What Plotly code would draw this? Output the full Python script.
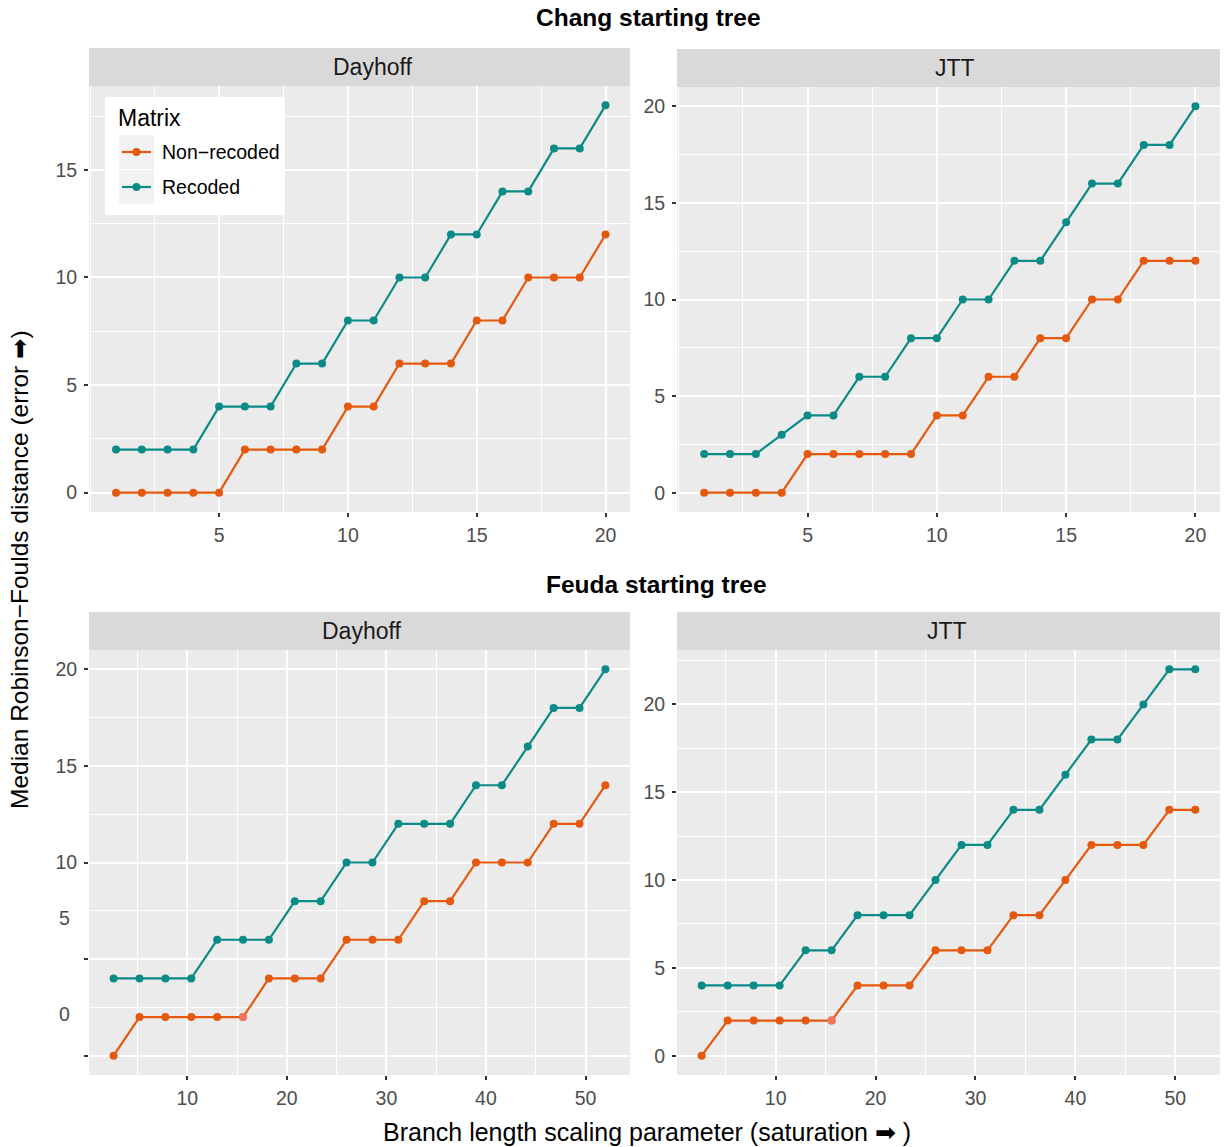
import plotly.graph_objects as go

W, H = 1225, 1147

# ---- data -------------------------------------------------------------
x_chang = [1, 2, 3, 4, 5, 6, 7, 8, 9, 10, 11, 12, 13, 14, 15, 16, 17, 18, 19, 20]
x_feuda = [2.6, 5.2, 7.8, 10.4, 13.0, 15.6, 18.2, 20.8, 23.4, 26.0,
           28.6, 31.2, 33.8, 36.4, 39.0, 41.6, 44.2, 46.8, 49.4, 52.0]

chang_dayhoff_non = [0, 0, 0, 0, 0, 2, 2, 2, 2, 4, 4, 6, 6, 6, 8, 8, 10, 10, 10, 12]
chang_dayhoff_rec = [2, 2, 2, 2, 4, 4, 4, 6, 6, 8, 8, 10, 10, 12, 12, 14, 14, 16, 16, 18]
chang_jtt_non = [0, 0, 0, 0, 2, 2, 2, 2, 2, 4, 4, 6, 6, 8, 8, 10, 10, 12, 12, 12]
chang_jtt_rec = [2, 2, 2, 3, 4, 4, 6, 6, 8, 8, 10, 10, 12, 12, 14, 16, 16, 18, 18, 20]
feuda_dayhoff_non = [0, 2, 2, 2, 2, 2, 4, 4, 4, 6, 6, 6, 8, 8, 10, 10, 10, 12, 12, 14]
feuda_dayhoff_rec = [4, 4, 4, 4, 6, 6, 6, 8, 8, 10, 10, 12, 12, 12, 14, 14, 16, 18, 18, 20]
feuda_jtt_non = [0, 2, 2, 2, 2, 2, 4, 4, 4, 6, 6, 6, 8, 8, 10, 12, 12, 12, 14, 14]
feuda_jtt_rec = [4, 4, 4, 4, 6, 6, 8, 8, 8, 10, 12, 12, 14, 14, 16, 18, 18, 20, 22, 22]

# highlighted single point in the Feuda panels
feuda_mark_x = [15.6]
feuda_mark_y = [2]

series_names = ["Non\u2212recoded", "Recoded"]
colors = {"Non\u2212recoded": "#E5590F", "Recoded": "#0B8B87"}
mark_color = "rgba(244,120,110,0.85)"

FONT = "Liberation Sans, Arial, DejaVu Sans, sans-serif"
TICK_FONT = dict(family=FONT, size=19.5, color="#4D4D4D")


def px_x(p):
    return p / W


def px_y(p):
    return 1 - p / H


# panel boxes in pixels: (left, right, top, bottom)
panels = {
    1: dict(box=(89, 630, 86, 512), x=x_chang, non=chang_dayhoff_non, rec=chang_dayhoff_rec,
            xr=[-0.05, 20.95], yr=[-0.9, 18.9], xt=[5, 10, 15, 20], xm=2.5,
            yt=[0, 5, 10, 15], strip="Dayhoff", strip_x=372, strip_y=(48, 86)),
    2: dict(box=(677, 1220, 87, 512), x=x_chang, non=chang_jtt_non, rec=chang_jtt_rec,
            xr=[-0.05, 20.95], yr=[-1, 21], xt=[5, 10, 15, 20], xm=2.5,
            yt=[0, 5, 10, 15, 20], strip="JTT", strip_x=955, strip_y=(49, 87)),
    3: dict(box=(89, 630, 650, 1075), x=x_feuda, non=feuda_dayhoff_non, rec=feuda_dayhoff_rec,
            xr=[0.13, 54.47], yr=[-1, 21], xt=[10, 20, 30, 40, 50], xm=5,
            yt=[0, 5, 10, 15, 20], strip="Dayhoff", strip_x=361, strip_y=(612, 650)),
    4: dict(box=(677, 1220, 650, 1075), x=x_feuda, non=feuda_jtt_non, rec=feuda_jtt_rec,
            xr=[0.13, 54.47], yr=[-1.1, 23.1], xt=[10, 20, 30, 40, 50], xm=5,
            yt=[0, 5, 10, 15, 20], strip="JTT", strip_x=947, strip_y=(612, 650)),
}

fig = go.Figure()
shapes = []
annotations = []

for i, p in panels.items():
    sfx = "" if i == 1 else str(i)
    xa, ya = "x" + sfx, "y" + sfx
    l, r, t, b = p["box"]
    for name, ys in ((series_names[0], p["non"]), (series_names[1], p["rec"])):
        fig.add_trace(go.Scatter(
            x=p["x"], y=ys, mode="lines+markers", name=name,
            line=dict(color=colors[name], width=2.2),
            marker=dict(color=colors[name], size=8),
            showlegend=False, xaxis=xa, yaxis=ya,
        ))
    if i in (3, 4):
        fig.add_trace(go.Scatter(
            x=feuda_mark_x, y=feuda_mark_y, mode="markers",
            marker=dict(color=mark_color, size=8),
            showlegend=False, xaxis=xa, yaxis=ya,
        ))

    ticktext = [str(v) for v in p["yt"]]
    if i == 3:
        ticktext = ["", "", "10", "15", "20"]
    axis_common = dict(
        showline=False, zeroline=False, ticks="outside", ticklen=4, tickwidth=1.6,
        tickcolor="#333333", tickfont=TICK_FONT, gridcolor="white", gridwidth=1.6,
    )
    fig.layout["xaxis" + sfx] = dict(
        axis_common, domain=[px_x(l), px_x(r)], range=p["xr"], anchor=ya,
        tickvals=p["xt"], ticklabelstandoff=2,
        minor=dict(tickmode="linear", tick0=0, dtick=p["xm"], showgrid=True,
                   gridcolor="white", gridwidth=0.8, ticks=""),
    )
    fig.layout["yaxis" + sfx] = dict(
        axis_common, domain=[px_y(b), px_y(t)], range=p["yr"], anchor=xa,
        tickvals=p["yt"], ticktext=ticktext, ticklabelstandoff=3,
        minor=dict(tickmode="linear", tick0=0, dtick=2.5, showgrid=True,
                   gridcolor="white", gridwidth=0.8, ticks=""),
    )
    # panel background
    shapes.append(dict(type="rect", xref="paper", yref="paper", layer="below",
                       x0=px_x(l), x1=px_x(r), y0=px_y(b), y1=px_y(t),
                       fillcolor="#EBEBEB", line=dict(width=0)))
    # strip
    s0, s1 = p["strip_y"]
    shapes.append(dict(type="rect", xref="paper", yref="paper", layer="below",
                       x0=px_x(l), x1=px_x(r), y0=px_y(s1), y1=px_y(s0),
                       fillcolor="#D9D9D9", line=dict(width=0)))
    annotations.append(dict(text=p["strip"], xref="paper", yref="paper",
                            x=px_x(p["strip_x"]), y=px_y((s0 + s1) / 2),
                            xanchor="center", yanchor="middle", showarrow=False,
                            font=dict(family=FONT, size=23, color="#1A1A1A")))

# labels of the lower-left y axis sit above their grid lines
for txt, yv in (("5", 7.15), ("0", 2.15)):
    annotations.append(dict(text=txt, xref="paper", yref="y3", x=px_x(72), y=yv,
                            xanchor="right", yanchor="middle", showarrow=False,
                            font=TICK_FONT))

# row titles
annotations.append(dict(text="<b>Chang starting tree</b>", xref="paper", yref="paper",
                        x=px_x(648), y=px_y(17), xanchor="center", yanchor="middle",
                        showarrow=False, font=dict(family=FONT, size=24.5, color="black")))
annotations.append(dict(text="<b>Feuda starting tree</b>", xref="paper", yref="paper",
                        x=px_x(656), y=px_y(584), xanchor="center", yanchor="middle",
                        showarrow=False, font=dict(family=FONT, size=24.5, color="black")))

# axis titles
annotations.append(dict(text="Branch length scaling parameter (saturation \u27a1 )",
                        xref="paper", yref="paper", x=px_x(647), y=px_y(1132),
                        xanchor="center", yanchor="middle", showarrow=False,
                        font=dict(family=FONT, size=25, color="black")))
annotations.append(dict(text="Median Robinson\u2212Foulds distance (error \u27a1)",
                        xref="paper", yref="paper", x=px_x(19), y=px_y(570),
                        xanchor="center", yanchor="middle", showarrow=False, textangle=-90,
                        font=dict(family=FONT, size=24.5, color="black")))

# legend box
shapes.append(dict(type="rect", xref="paper", yref="paper", layer="above",
                   x0=px_x(105), x1=px_x(285), y0=px_y(215), y1=px_y(97),
                   fillcolor="white", line=dict(width=0)))
annotations.append(dict(text="Matrix", xref="paper", yref="paper", x=px_x(116), y=px_y(118),
                        xanchor="left", yanchor="middle", showarrow=False,
                        font=dict(family=FONT, size=23, color="black")))
for k, (name, cy) in enumerate(((series_names[0], 152), (series_names[1], 187))):
    shapes.append(dict(type="rect", xref="paper", yref="paper", layer="above",
                       x0=px_x(119), x1=px_x(154), y0=px_y(cy + 17), y1=px_y(cy - 17),
                       fillcolor="#F2F2F2", line=dict(width=0)))
    shapes.append(dict(type="line", xref="paper", yref="paper", layer="above",
                       x0=px_x(122), x1=px_x(151), y0=px_y(cy), y1=px_y(cy),
                       line=dict(color=colors[name], width=2.2)))
    shapes.append(dict(type="circle", xref="paper", yref="paper", layer="above",
                       xsizemode="pixel", ysizemode="pixel",
                       xanchor=px_x(136.5), yanchor=px_y(cy),
                       x0=-4, x1=4, y0=-4, y1=4,
                       fillcolor=colors[name], line=dict(width=0)))
    annotations.append(dict(text=name, xref="paper", yref="paper", x=px_x(160), y=px_y(cy),
                            xanchor="left", yanchor="middle", showarrow=False,
                            font=dict(family=FONT, size=19.5, color="black")))

fig.update_layout(
    width=W, height=H, margin=dict(l=0, r=0, t=0, b=0),
    paper_bgcolor="white", plot_bgcolor="rgba(0,0,0,0)",
    shapes=shapes, annotations=annotations, showlegend=False,
)

fig.write_html("out.html")
